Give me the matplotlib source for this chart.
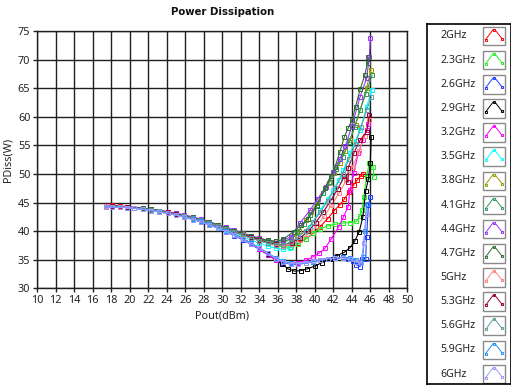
"""Power dissipation vs output power, one curve per frequency"""

import matplotlib
matplotlib.use('Agg')
import matplotlib.pyplot as plt
from matplotlib.patches import Rectangle

plt.rcParams['font.family'] = ['Noto Sans', 'DejaVu Sans']

# shared Pout points of the low-power part of the sweep (dBm)
pout_low = [17.4, 18.1, 18.9, 19.7, 20.5, 21.4, 22.3, 23.2, 24.1, 25.0, 25.9,
            26.8, 27.7, 28.6, 29.5, 30.4, 31.3, 32.2, 33.1, 34.0, 34.9, 35.8]

freqs = ['2GHz', '2.3GHz', '2.6GHz', '2.9GHz', '3.2GHz', '3.5GHz', '3.8GHz',
         '4.1GHz', '4.4GHz', '4.7GHz', '5GHz', '5.3GHz', '5.6GHz', '5.9GHz', '6GHz']
colors = ['#ff0000', '#22ee22', '#1f3cff', '#000000', '#ff00ff', '#00ffff', '#999900',
          '#2e9a5a', '#9933ff', '#2f6f2f', '#ff8080', '#990033', '#5f9ea0', '#1e90ff', '#9999ff']

# Pdiss (W) at pout_low, per frequency
low_2g0 = [44.4, 44.5, 44.4, 44.3, 44.1, 43.9, 43.7, 43.5, 43.3, 43.0, 42.7, 42.3, 41.9, 41.4, 40.9, 40.4, 39.8, 39.3, 38.8, 38.4, 38.0, 37.6]
low_2g3 = [44.2, 44.3, 44.3, 44.2, 44.0, 43.9, 43.7, 43.5, 43.2, 43.0, 42.7, 42.4, 42.0, 41.5, 41.0, 40.5, 40.0, 39.5, 39.0, 38.5, 38.0, 37.5]
low_2g6 = [44.3, 44.2, 44.2, 44.1, 44.0, 43.8, 43.6, 43.4, 43.1, 42.8, 42.5, 42.1, 41.6, 41.1, 40.5, 39.9, 39.2, 38.5, 37.7, 36.8, 35.9, 35.0]
low_2g9 = [44.3, 44.4, 44.3, 44.2, 44.0, 43.9, 43.7, 43.4, 43.2, 42.9, 42.6, 42.2, 41.7, 41.2, 40.6, 40.0, 39.4, 38.7, 37.9, 37.0, 36.0, 34.9]
low_3g2 = [44.4, 44.3, 44.3, 44.2, 44.0, 43.9, 43.7, 43.5, 43.2, 42.9, 42.6, 42.2, 41.7, 41.2, 40.6, 40.0, 39.3, 38.6, 37.8, 36.9, 35.9, 35.0]
low_3g5 = [44.3, 44.3, 44.2, 44.2, 44.0, 43.8, 43.6, 43.4, 43.2, 42.9, 42.6, 42.2, 41.8, 41.3, 40.8, 40.2, 39.6, 39.0, 38.4, 37.9, 37.4, 37.0]
low_3g8 = [44.3, 44.4, 44.3, 44.2, 44.1, 43.9, 43.8, 43.6, 43.4, 43.1, 42.8, 42.4, 42.0, 41.5, 41.0, 40.5, 40.0, 39.5, 39.0, 38.6, 38.2, 37.9]
low_4g1 = [44.2, 44.4, 44.3, 44.2, 44.1, 44.0, 43.8, 43.6, 43.4, 43.1, 42.8, 42.4, 42.0, 41.6, 41.1, 40.6, 40.1, 39.6, 39.1, 38.6, 38.2, 38.0]
low_4g4 = [44.2, 44.3, 44.3, 44.2, 44.1, 44.0, 43.8, 43.6, 43.4, 43.1, 42.8, 42.5, 42.1, 41.6, 41.1, 40.7, 40.2, 39.7, 39.2, 38.8, 38.4, 38.2]
low_4g7 = [44.3, 44.3, 44.3, 44.2, 44.1, 44.0, 43.8, 43.6, 43.3, 43.0, 42.7, 42.4, 42.0, 41.6, 41.1, 40.6, 40.1, 39.6, 39.1, 38.7, 38.4, 38.2]
low_5g0 = [44.4, 44.3, 44.3, 44.2, 44.0, 43.9, 43.7, 43.5, 43.3, 43.0, 42.7, 42.3, 41.9, 41.4, 40.9, 40.4, 39.9, 39.3, 38.8, 38.3, 37.9, 37.5]
low_5g3 = [44.3, 44.4, 44.3, 44.2, 44.1, 43.9, 43.7, 43.5, 43.3, 43.0, 42.7, 42.3, 41.9, 41.4, 40.9, 40.4, 39.9, 39.4, 38.9, 38.4, 38.0, 37.7]
low_5g6 = [44.3, 44.3, 44.3, 44.1, 44.0, 43.9, 43.7, 43.5, 43.2, 42.9, 42.6, 42.3, 41.9, 41.4, 40.9, 40.4, 39.9, 39.3, 38.8, 38.3, 37.9, 37.6]
low_5g9 = [44.3, 44.2, 44.2, 44.1, 44.0, 43.8, 43.6, 43.4, 43.1, 42.8, 42.5, 42.1, 41.7, 41.2, 40.6, 40.0, 39.4, 38.7, 37.9, 37.1, 36.2, 35.3]
low_6g0 = [44.2, 44.2, 44.2, 44.1, 44.0, 43.8, 43.6, 43.3, 43.1, 42.8, 42.4, 42.0, 41.6, 41.1, 40.5, 39.9, 39.3, 38.6, 37.8, 37.0, 36.1, 35.2]

# high-power part: each frequency has its own Pout points
hi_x_2g0 = [36.6, 37.4, 38.2, 39.0, 39.8, 40.6, 41.4, 42.1, 42.7, 43.2, 43.7, 44.2, 44.6, 45.0, 45.2]
hi_y_2g0 = [37.4, 37.5, 37.9, 38.6, 39.6, 40.8, 42.2, 43.6, 44.6, 45.6, 46.8, 48.1, 49.0, 49.7, 50.0]
hi_x_2g3 = [36.6, 37.4, 38.2, 39.0, 39.8, 40.6, 41.4, 42.2, 43.0, 43.8, 44.5, 44.9, 45.1, 45.3, 45.6, 45.9, 46.3, 46.4]
hi_y_2g3 = [37.2, 37.2, 37.7, 38.6, 39.7, 40.4, 40.9, 41.2, 41.4, 41.5, 41.7, 42.7, 43.7, 46.0, 49.5, 52.0, 51.3, 49.5]
hi_x_2g6 = [36.6, 37.4, 38.2, 39.0, 39.8, 40.6, 41.4, 42.2, 43.0, 43.6, 44.1, 44.5, 44.9, 45.1, 45.5, 45.6, 45.8, 46.0]
hi_y_2g6 = [34.5, 34.2, 34.2, 34.4, 34.7, 35.0, 35.2, 35.4, 35.4, 35.2, 34.7, 34.1, 33.8, 35.2, 35.1, 39.0, 44.6, 45.9]
hi_x_2g9 = [36.5, 37.1, 37.8, 38.5, 39.2, 40.0, 40.8, 41.6, 42.4, 43.2, 43.8, 44.3, 44.8, 45.2, 45.5, 45.8, 46.0, 46.1]
hi_y_2g9 = [34.2, 33.4, 33.0, 33.1, 33.4, 33.9, 34.5, 35.1, 35.7, 36.3, 37.1, 38.2, 39.9, 42.5, 47.0, 49.2, 52.0, 56.5]
hi_x_3g2 = [36.6, 37.4, 38.2, 39.1, 39.8, 40.5, 41.1, 41.8, 42.6, 43.1, 43.6, 43.8, 44.2, 44.7, 45.2, 45.6, 45.8]
hi_y_3g2 = [34.6, 34.4, 34.5, 34.9, 35.5, 36.2, 37.0, 38.7, 40.8, 42.5, 44.3, 47.2, 50.1, 53.6, 55.9, 57.7, 58.8]
hi_x_3g5 = [36.6, 37.3, 38.4, 39.5, 40.6, 41.4, 42.0, 42.6, 43.1, 43.8, 44.4, 44.9, 45.6, 46.15]
hi_y_3g5 = [36.8, 37.0, 38.4, 40.8, 43.7, 45.6, 47.2, 49.0, 50.7, 53.6, 55.8, 57.7, 61.7, 64.7]
hi_x_3g8 = [36.6, 37.6, 38.3, 39.0, 39.6, 40.2, 40.9, 41.5, 42.1, 42.7, 43.3, 43.8, 44.4, 44.9, 45.6, 46.05]
hi_y_3g8 = [38.0, 38.8, 40.0, 41.9, 43.3, 44.9, 46.6, 48.4, 50.2, 51.9, 54.0, 55.9, 58.6, 61.2, 65.0, 68.2]
hi_x_4g1 = [36.6, 37.4, 38.1, 38.8, 39.5, 40.2, 40.9, 41.6, 42.3, 43.0, 43.7, 44.3, 44.9, 45.5, 46.2]
hi_y_4g1 = [38.1, 38.7, 39.8, 41.2, 42.8, 44.6, 46.6, 48.6, 50.8, 53.0, 55.6, 58.2, 61.2, 64.0, 67.3]
hi_x_4g4 = [36.6, 37.4, 38.4, 39.5, 40.3, 41.2, 42.0, 42.7, 43.3, 44.0, 44.9, 45.6, 45.9, 46.0]
hi_y_4g4 = [38.4, 39.0, 41.4, 43.7, 45.6, 47.8, 50.4, 52.6, 54.8, 58.4, 63.5, 66.7, 70.5, 73.7]
hi_x_4g7 = [36.6, 37.7, 38.5, 39.3, 40.2, 41.1, 41.7, 42.2, 42.7, 43.2, 43.6, 44.0, 44.4, 44.9, 45.4, 45.7, 45.8]
hi_y_4g7 = [38.6, 39.9, 41.0, 42.2, 44.4, 47.5, 49.6, 51.3, 53.8, 56.5, 58.0, 59.4, 61.7, 64.8, 67.3, 69.4, 70.4]
hi_x_5g0 = [36.6, 37.5, 38.4, 39.3, 40.2, 41.0, 41.8, 42.6, 43.4, 44.1, 44.8, 45.4, 45.9]
hi_y_5g0 = [37.4, 37.7, 38.4, 39.5, 40.9, 42.6, 44.5, 46.6, 48.9, 51.3, 54.0, 56.7, 59.4]
hi_x_5g3 = [36.6, 37.5, 38.4, 39.3, 40.1, 40.9, 41.7, 42.5, 43.2, 43.6, 43.6, 44.2, 44.9, 45.6, 45.9]
hi_y_5g3 = [37.6, 38.0, 38.8, 40.0, 41.5, 43.3, 45.3, 47.4, 49.6, 48.6, 51.0, 53.6, 55.9, 57.4, 60.3]
hi_x_5g6 = [36.6, 37.4, 38.2, 39.0, 39.8, 40.6, 41.4, 42.2, 43.0, 43.7, 44.4, 45.0, 45.6, 46.1]
hi_y_5g6 = [37.6, 38.1, 38.9, 40.1, 41.6, 43.3, 45.3, 47.5, 50.0, 52.6, 55.3, 58.2, 61.2, 63.4]
hi_x_5g9 = [36.6, 37.4, 38.2, 39.0, 39.8, 40.6, 41.4, 42.2, 43.0, 43.8, 44.4, 44.9, 45.2, 45.4, 45.6]
hi_y_5g9 = [34.7, 34.4, 34.3, 34.4, 34.6, 34.9, 35.1, 35.3, 35.4, 35.3, 35.0, 34.6, 35.4, 40.0, 44.8]
hi_x_6g0 = [36.6, 37.4, 38.2, 39.0, 39.8, 40.6, 41.4, 42.2, 43.0, 43.8, 44.5, 45.0, 45.3, 45.6]
hi_y_6g0 = [34.6, 34.3, 34.3, 34.5, 34.8, 35.0, 35.2, 35.3, 35.3, 35.1, 34.6, 34.4, 38.0, 43.0]

low_all = [low_2g0, low_2g3, low_2g6, low_2g9, low_3g2, low_3g5, low_3g8, low_4g1,
           low_4g4, low_4g7, low_5g0, low_5g3, low_5g6, low_5g9, low_6g0]
hi_x_all = [hi_x_2g0, hi_x_2g3, hi_x_2g6, hi_x_2g9, hi_x_3g2, hi_x_3g5, hi_x_3g8, hi_x_4g1,
            hi_x_4g4, hi_x_4g7, hi_x_5g0, hi_x_5g3, hi_x_5g6, hi_x_5g9, hi_x_6g0]
hi_y_all = [hi_y_2g0, hi_y_2g3, hi_y_2g6, hi_y_2g9, hi_y_3g2, hi_y_3g5, hi_y_3g8, hi_y_4g1,
            hi_y_4g4, hi_y_4g7, hi_y_5g0, hi_y_5g3, hi_y_5g6, hi_y_5g9, hi_y_6g0]

W, H = 511, 386
fig = plt.figure(figsize=(W / 100, H / 100), dpi=100)
fig.patch.set_facecolor('white')

# plot area in pixels: left 37, right 407, top 31, bottom 288
ax = fig.add_axes([37.3 / W, (H - 288.3) / H, 370 / W, 257.3 / H])
for i in range(len(freqs)):
    x = pout_low + hi_x_all[i]
    y = low_all[i] + hi_y_all[i]
    ax.plot(x, y, color=colors[i], lw=0.8, marker='s', ms=3.0,
            mfc='none', mec=colors[i], mew=0.7, zorder=3)

ax.set_xlim(10, 50)
ax.set_ylim(30, 75)
ax.set_xticks(range(10, 51, 2))
ax.set_yticks(range(30, 76, 5))
ax.grid(True, color='#202020', lw=1.0, zorder=1)
ax.tick_params(length=3, width=1.0, color='#202020', labelsize=7.8, pad=2,
               labelcolor='#222222')
for sp in ax.spines.values():
    sp.set_color('#202020')
    sp.set_linewidth(1.0)
ax.set_xlabel('Pout(dBm)', fontsize=7.8, color='#222222', labelpad=3)
ax.set_ylabel('PDiss(W)', fontsize=7.8, color='#222222', labelpad=3)
fig.text(223 / W, 1 - 12 / H, 'Power Dissipation', ha='center', va='center',
         fontsize=7.3, fontweight='bold', color='#111111', family='DejaVu Sans')

# legend panel drawn in pixel coordinates
lx0, lx1, ly0, ly1 = 426.5, 511, 24, 384
lax = fig.add_axes([lx0 / W, (H - ly1) / H, (lx1 - lx0) / W, (ly1 - ly0) / H])
lax.set_xlim(lx0, lx1)
lax.set_ylim(ly1, ly0)
lax.set_xticks([])
lax.set_yticks([])
for sp in lax.spines.values():
    sp.set_color('black')
    sp.set_linewidth(1.2)
row0, step = 36.0, 24.15
for i, name in enumerate(freqs):
    yc = row0 + i * step
    lax.text(440.5, yc, name, ha='left', va='center', fontsize=7.6, color='#222222')
    bx, by = 482.5, yc - 9.3
    lax.add_patch(Rectangle((bx, by), 22.5, 18.5, fill=False, ec='#8a8a8a', lw=1.0))
    ix = [bx + 3.0, bx + 10.5, bx + 12.5, bx + 19.5]
    iy = [by + 13.0, by + 3.0, by + 3.0, by + 12.0]
    lax.plot(ix, iy, color=colors[i], lw=0.7)
    lax.plot([ix[0], ix[1] + 1.0, ix[3]], [iy[0], iy[1], iy[3]], ls='none', marker='s',
             ms=2.0, mfc='none', mec=colors[i], mew=0.7)

fig.savefig('out.png', dpi=100)
